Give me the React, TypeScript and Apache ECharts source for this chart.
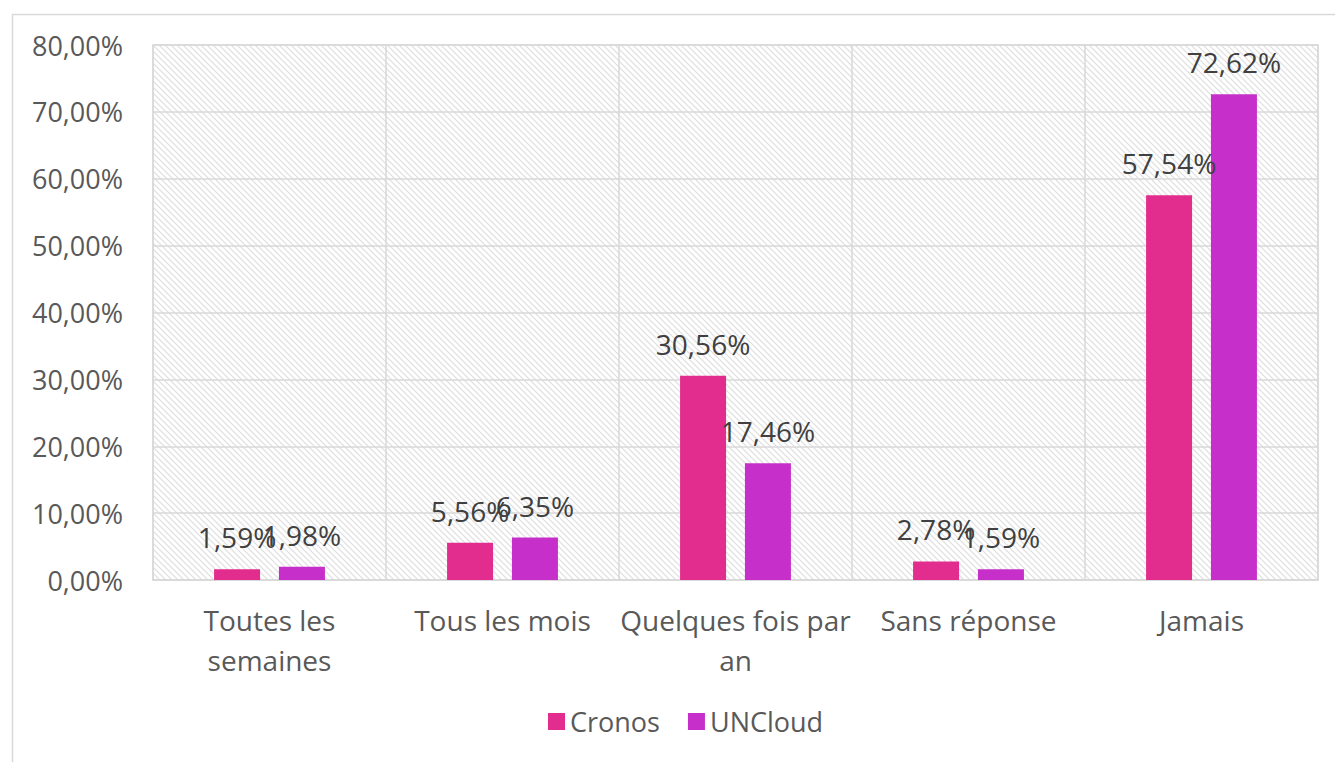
import React, { useEffect, useRef } from "react";
import * as echarts from "echarts";

const categories = ["Toutes les\nsemaines", "Tous les mois", "Quelques fois par\nan", "Sans réponse", "Jamais"];
const cronos = [1.59, 5.56, 30.56, 2.78, 57.54];
const uncloud = [1.98, 6.35, 17.46, 1.59, 72.62];
const seriesNames = ["Cronos", "UNCloud"];

const FONT = "'Open Sans', 'Noto Sans', sans-serif";
const fmt = (v: number) => v.toFixed(2).replace(".", ",") + "%";

const hatchSvg =
  "data:image/svg+xml;charset=utf-8," +
  encodeURIComponent(
    '<svg xmlns="http://www.w3.org/2000/svg" width="6" height="6">' +
      '<rect width="6" height="6" fill="#ffffff"/>' +
      '<path d="M-1,-1 L7,7 M-1,5 L1,7 M5,-1 L7,1" stroke="#dedede" stroke-width="1.2"/>' +
      "</svg>"
  );

export default function App() {
  const ref = useRef<HTMLDivElement>(null);
  useEffect(() => {
    if (!ref.current) return;
    const chart = echarts.init(ref.current, null, { renderer: "svg" });
    const labelStyle = {
      show: true,
      position: "top",
      distance: 18,
      color: "#404040",
      fontSize: 28,
      fontFamily: FONT,
      formatter: (p: any) => fmt(p.value),
    };
    chart.setOption({
      animation: false,
      backgroundColor: "#ffffff",
      textStyle: { fontFamily: FONT },
      graphic: [
        {
          type: "rect",
          left: 10,
          top: 12,
          shape: { width: 1400, height: 800 },
          style: { fill: "none", stroke: "#d9d9d9", lineWidth: 1.5 },
          z: -1,
        },
      ],
      grid: {
        left: 153,
        top: 45,
        width: 1165,
        height: 535,
        show: true,
        borderColor: "#d9d9d9",
        borderWidth: 1.5,
        backgroundColor: {
          image: hatchSvg,
          repeat: "repeat",
          imageWidth: 6,
          imageHeight: 6,
        },
      },
      legend: {
        data: seriesNames,
        bottom: 22,
        left: 543,
        itemWidth: 17,
        itemHeight: 17,
        itemGap: 28,
        icon: "rect",
        textStyle: { fontSize: 27, color: "#595959", fontFamily: FONT },
      },
      xAxis: {
        type: "category",
        data: categories,
        axisLine: { show: true, lineStyle: { color: "#d9d9d9", width: 1.5 } },
        axisTick: { show: false },
        splitLine: { show: true, lineStyle: { color: "#d9d9d9", width: 1.5 } },
        axisLabel: {
          color: "#595959",
          fontSize: 28,
          lineHeight: 40,
          margin: 20,
          interval: 0,
          fontFamily: FONT,
        },
      },
      yAxis: {
        type: "value",
        min: 0,
        max: 80,
        interval: 10,
        axisLine: { show: false },
        axisTick: { show: false },
        splitLine: { show: true, lineStyle: { color: "#d9d9d9", width: 1.5 } },
        axisLabel: {
          color: "#595959",
          fontSize: 27,
          margin: 30,
          formatter: (v: number) => fmt(v),
          fontFamily: FONT,
        },
      },
      series: [
        {
          name: seriesNames[0],
          type: "bar",
          data: cronos,
          barWidth: 46,
          barGap: "41%",
          itemStyle: { color: "#E22D8F" },
          label: labelStyle,
        },
        {
          name: seriesNames[1],
          type: "bar",
          data: uncloud,
          barWidth: 46,
          itemStyle: { color: "#C62FC9" },
          label: labelStyle,
        },
      ],
    });
    return () => chart.dispose();
  }, []);
  return (
    <div
      ref={ref}
      style={{ position: "fixed", left: 0, top: 0, width: 1335, height: 762 }}
    />
  );
}
